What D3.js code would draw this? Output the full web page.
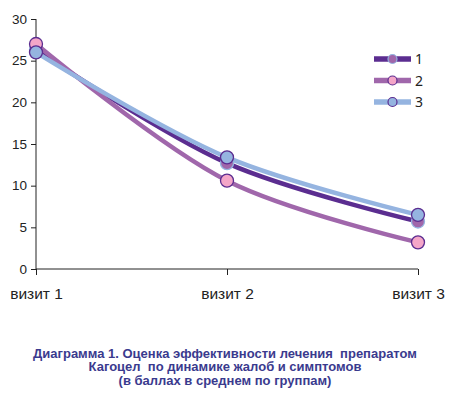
<!DOCTYPE html>
<html>
<head>
<meta charset="utf-8">
<script src="https://cdn.jsdelivr.net/npm/d3@7"></script>
<style>
  body { margin: 0; background: #fff; }
</style>
</head>
<body>
<div id="canvas"></div>
<script>
// chart size
const width = 457;
const height = 393;

// data
const visits = ['визит 1', 'визит 2', 'визит 3'];
const group1 = [26.3, 12.7, 5.7];
const group2 = [27.0, 10.6, 3.2];
const group3 = [26.0, 13.4, 6.5];
const yTicks = [0, 5, 10, 15, 20, 25, 30];
const seriesNames = ['1', '2', '3'];
const titleLines = [
  'Диаграмма 1. Оценка эффективности лечения  препаратом',
  'Кагоцел  по динамике жалоб и симптомов',
  '(в баллах в среднем по группам)'
];

const styles = [
  { line: '#5b2d90', fill: '#a066aa', stroke: '#95b4e0' },
  { line: '#a067ab', fill: '#f4a6c8', stroke: '#5b2d90' },
  { line: '#95b4e0', fill: '#95b4e0', stroke: '#5b2d90' }
];
const allSeries = [group1, group2, group3];

const svg = d3.select('#canvas')
  .append('svg')
  .attr('width', width)
  .attr('height', height)
  .style('font-family', '"Noto Sans", sans-serif');

const x = d3.scalePoint()
  .domain(visits)
  .range([36, 418]);

const y = d3.scaleLinear()
  .domain([0, 30])
  .range([269, 19]);

// y axis
const yAxis = svg.append('g')
  .attr('transform', 'translate(36,0)')
  .call(d3.axisLeft(y).tickValues(yTicks).tickSize(5).tickPadding(4));
yAxis.select('.domain').attr('d', 'M0,' + y(30) + 'V' + y(0)).attr('stroke', '#222');
yAxis.selectAll('.tick line').attr('stroke', '#222');
yAxis.selectAll('.tick text').style('font-size', '13.5px').attr('fill', '#222');

// x axis
const xAxis = svg.append('g')
  .attr('transform', 'translate(0,' + y(0) + ')')
  .call(d3.axisBottom(x).tickSize(6).tickPadding(13));
xAxis.select('.domain').attr('d', 'M36,0H418').attr('stroke', '#222');
xAxis.selectAll('.tick line').attr('stroke', '#222');
xAxis.selectAll('.tick text').style('font-size', '15.5px').attr('fill', '#222');

// lines + markers, one series at a time
const line = d3.line()
  .x((d, i) => x(visits[i]))
  .y(d => y(d))
  .curve(d3.curveCatmullRom.alpha(0.5));

allSeries.forEach((vals, k) => {
  const st = styles[k];
  svg.append('path')
    .datum(vals)
    .attr('d', line)
    .attr('fill', 'none')
    .attr('stroke', st.line)
    .attr('stroke-width', 4.5)
    .attr('stroke-linecap', 'round');

  svg.selectAll('.m' + k)
    .data(vals)
    .enter()
    .append('circle')
    .attr('class', 'm' + k)
    .attr('cx', (d, i) => x(visits[i]))
    .attr('cy', d => y(d))
    .attr('r', 6.5)
    .attr('fill', st.fill)
    .attr('stroke', st.stroke)
    .attr('stroke-width', 1.3);
});

// legend
const legend = svg.append('g').attr('transform', 'translate(374,59)');
seriesNames.forEach((name, k) => {
  const st = styles[k];
  const row = legend.append('g').attr('transform', 'translate(0,' + (k * 21.5) + ')');
  row.append('line')
    .attr('x1', 0).attr('x2', 37)
    .attr('stroke', st.line)
    .attr('stroke-width', 5.5);
  row.append('circle')
    .attr('cx', 18.5)
    .attr('r', 4.5)
    .attr('fill', st.fill)
    .attr('stroke', st.stroke)
    .attr('stroke-width', 1.2);
  row.append('text')
    .attr('x', 41)
    .attr('y', 5)
    .style('font-size', '14px')
    .attr('fill', '#222')
    .text(name);
});

// caption
const caption = svg.append('text')
  .attr('text-anchor', 'middle')
  .style('white-space', 'pre')
  .style('font-family', '"Liberation Sans", Arial, sans-serif')
  .style('font-weight', 'bold')
  .style('font-size', '13px')
  .attr('fill', '#3a3a8e');
titleLines.forEach((t, i) => {
  caption.append('tspan')
    .attr('x', 225)
    .attr('y', 357.5 + i * 13.7)
    .text(t);
});
</script>
</body>
</html>
